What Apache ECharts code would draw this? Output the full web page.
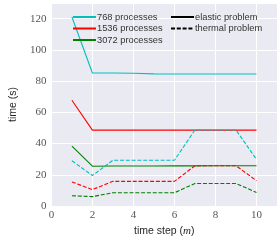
<!DOCTYPE html>
<html><head><meta charset="utf-8">
<script src="https://cdn.jsdelivr.net/npm/echarts@6/dist/echarts.min.js"></script>
<style>html,body{margin:0;padding:0;background:#fff}#c{width:280px;height:242px}</style>
</head><body><div id="c"></div>
<script>
const steps = [1,2,3,4,5,6,7,8,9,10];
const elastic768  = [121, 85.2, 85.2, 85.0, 84.6, 84.5, 84.5, 84.5, 84.5, 84.5];
const elastic1536 = [67.7, 48.6, 48.6, 48.6, 48.6, 48.6, 48.6, 48.6, 48.6, 48.6];
const elastic3072 = [38.3, 25.5, 25.6, 25.6, 25.6, 25.7, 25.7, 25.8, 25.8, 25.8];
const thermal768  = [29.0, 19.5, 29.3, 29.3, 29.3, 29.3, 48.7, 48.7, 48.7, 29.8];
const thermal1536 = [15.4, 10.5, 15.8, 15.8, 15.8, 15.8, 25.8, 25.8, 25.8, 16.2];
const thermal3072 = [6.6, 6.0, 8.5, 8.5, 8.5, 8.5, 14.4, 14.4, 14.4, 8.7];
const procNames = ['768 processes','1536 processes','3072 processes'];
const styleNames = ['elastic problem','thermal problem'];
const xTicks = {min:0, max:11, interval:2};
const yTicks = {min:0, max:130, interval:20};

const colors = ['#00bfbf','#ff0000','#008000'];
const dash = [4,1.8];
const pair = a => steps.map((s,i)=>[s,a[i]]);
const mk = (name, data, color, dashed) => ({
  name, type:'line', data:pair(data), symbol:'none', silent:true,
  lineStyle:{color, width:1.1, type: dashed?dash:'solid'}, itemStyle:{color},
  animation:false
});
const series = [
  mk(procNames[0], elastic768, colors[0], false),
  mk(procNames[1], elastic1536, colors[1], false),
  mk(procNames[2], elastic3072, colors[2], false),
  mk('t768', thermal768, colors[0], true),
  mk('t1536', thermal1536, colors[1], true),
  mk('t3072', thermal3072, colors[2], true),
  {name:styleNames[0], type:'line', data:[], symbol:'none', lineStyle:{color:'#000',width:1.1}, itemStyle:{color:'#000'}},
  {name:styleNames[1], type:'line', data:[], symbol:'none', lineStyle:{color:'#000',width:1.1,type:dash}, itemStyle:{color:'#000'}}
];
const legendText = {fontFamily:'Liberation Sans', fontSize:9.3, lineHeight:10, color:'#333', padding:[0,0,0,-4]};
const legendItem = {color:'rgba(0,0,0,0)', borderColor:'rgba(0,0,0,0)', borderWidth:0, opacity:0};
const legendCommon = {orient:'vertical', top:12, itemWidth:23, itemHeight:8, itemGap:1.5, padding:0,
  textStyle:legendText, selectedMode:false, itemStyle:legendItem};
const chart = echarts.init(document.getElementById('c'), null, {renderer:'canvas'});
chart.setOption({
  animation:false,
  backgroundColor:'#ffffff',
  grid:{left:36, right:3, top:3, bottom:30, show:true, backgroundColor:'#eaeaf2', borderWidth:0},
  legend:[
    Object.assign({data:procNames, left:72}, legendCommon),
    Object.assign({data:styleNames, left:170}, legendCommon)
  ],
  xAxis:{type:'value', min:xTicks.min, max:xTicks.max, interval:xTicks.interval,
    axisLine:{show:false}, axisTick:{show:false},
    splitLine:{show:true, lineStyle:{color:'#ffffff', width:1}},
    axisLabel:{showMaxLabel:false, fontFamily:'Liberation Serif', fontSize:11, color:'#555', margin:4},
    name:'{a|time step (}{b|m}{a|)}', nameLocation:'middle', nameGap:20,
    nameTextStyle:{rich:{a:{fontFamily:'Liberation Sans', fontSize:10.5, color:'#262626'}, b:{fontFamily:'Liberation Serif', fontStyle:'italic', fontSize:11, color:'#262626'}}}
  },
  yAxis:{type:'value', min:yTicks.min, max:yTicks.max, interval:yTicks.interval,
    axisLine:{show:false}, axisTick:{show:false},
    splitLine:{show:true, lineStyle:{color:'#ffffff', width:1}},
    axisLabel:{showMaxLabel:false, fontFamily:'Liberation Serif', fontSize:11, color:'#555', margin:5},
    name:'time (s)', nameLocation:'middle', nameGap:27,
    nameTextStyle:{fontFamily:'Liberation Sans', fontSize:10.5, color:'#262626'}
  },
  series
});
</script></body></html>
